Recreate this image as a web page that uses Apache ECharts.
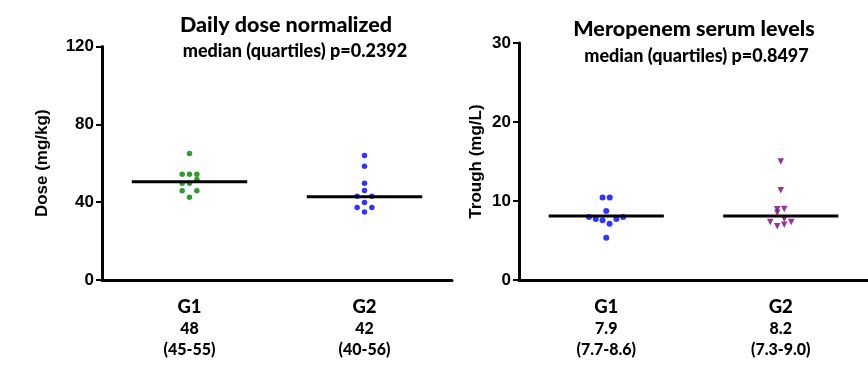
<!DOCTYPE html>
<html><head><meta charset="utf-8">
<script src="https://cdn.jsdelivr.net/npm/echarts@6/dist/echarts.min.js"></script>
<style>html,body{margin:0;padding:0;background:#fff}#c{width:868px;height:366px}</style>
</head><body><div id="c"></div>
<script>
// ---- data ----
const groups = ['G1', 'G2'];
const doseMedianText = ['48', '42'];
const doseQuartileText = ['(45-55)', '(40-56)'];
const troughMedianText = ['7.9', '8.2'];
const troughQuartileText = ['(7.7-8.6)', '(7.3-9.0)'];
// points: [group position incl. horizontal scatter, value]
const doseG1 = [[1,65],[0.958,54.3],[1,54.3],[1.042,54.3],[0.958,49.7],[1,49.7],[1.042,51.6],[0.958,45.9],[1.042,45.9],[1,42.5]];
const doseG2 = [[2,64],[2,58.4],[2,49.7],[2,46],[1.958,43],[2.042,43],[2,39.8],[1.958,37.2],[2.042,37.2],[2,34.9]];
const troughG1 = [[0.979,10.45],[1.02,10.45],[1,8.75],[0.901,7.97],[0.94,7.72],[0.979,7.55],[1.019,7.13],[1.058,7.72],[1.097,7.97],[1,5.36]];
const troughG2 = [[2,15],[2,11.35],[2.02,9.0],[1.98,8.95],[1.98,8.52],[2.02,7.72],[1.94,7.34],[1.98,6.79],[2.02,7.0],[2.06,7.34]];
const doseLineValues = [50.5, 42.8];
const troughLineValues = [8.1, 8.1];
const doseAxis = {min: 0, max: 120, interval: 40};
const troughAxis = {min: 0, max: 30, interval: 10};

const FONT = 'Lato, "Open Sans", sans-serif';
const AFONT = '"Liberation Sans", Arial, sans-serif';
const halfW = 0.33;

function lineSeries(values, xi, yi) {
  return values.map((v, i) => ({
    type: 'line', xAxisIndex: xi, yAxisIndex: yi,
    data: [[i + 1 - halfW, v], [i + 1 + halfW, v]],
    symbol: 'none', lineStyle: {color: '#000', width: 3}, z: 5, silent: true
  }));
}
function catAxis(gi, med, quart) {
  return {
    type: 'category', gridIndex: gi, data: groups, boundaryGap: true,
    axisLine: {lineStyle: {color: '#000', width: 3}},
    axisTick: {alignWithLabel: true, length: 7, lineStyle: {color: '#000', width: 2}},
    axisLabel: {
      margin: 16, fontFamily: FONT, fontWeight: 900, color: '#000',
      formatter: (v, i) => '{g|' + v + '}\n{n|' + med[i] + '}\n{n|' + quart[i] + '}',
      rich: {
        g: {fontSize: 18.5, fontWeight: 900, lineHeight: 22, color: '#000', fontFamily: FONT},
        n: {fontSize: 16, fontWeight: 900, lineHeight: 21, color: '#000', fontFamily: FONT}
      }
    }
  };
}
function valY(gi, ax, name, gap) {
  return {
    type: 'value', gridIndex: gi, min: ax.min, max: ax.max, interval: ax.interval,
    name: name, nameLocation: 'middle', nameRotate: 90, nameGap: gap,
    nameTextStyle: {fontFamily: AFONT, fontSize: 17, fontWeight: 'bold', color: '#000'},
    axisLine: {show: true, lineStyle: {color: '#000', width: 3}},
    axisTick: {show: true, length: 6, lineStyle: {color: '#000', width: 2}},
    axisLabel: {margin: 8, fontFamily: AFONT, fontSize: 17, fontWeight: 'bold', color: '#000'},
    splitLine: {show: false}
  };
}

const chart = echarts.init(document.getElementById('c'));
chart.setOption({
  backgroundColor: '#fff',
  animation: false,
  grid: [
    {left: 102, right: 416, top: 46.5, bottom: 86},
    {left: 519, right: -7, top: 43, bottom: 86}
  ],
  xAxis: [
    catAxis(0, doseMedianText, doseQuartileText),
    catAxis(1, troughMedianText, troughQuartileText),
    {type: 'value', gridIndex: 0, min: 0.5, max: 2.5, show: false},
    {type: 'value', gridIndex: 1, min: 0.5, max: 2.5, show: false}
  ],
  yAxis: [
    valY(0, doseAxis, 'Dose (mg/kg)', 51),
    valY(1, troughAxis, 'Trough (mg/L)', 34)
  ],
  graphic: [
    {type: 'text', x: 286, y: 25, style: {text: 'Daily dose normalized', font: '900 21.5px ' + FONT, fill: '#000', textAlign: 'center', textVerticalAlign: 'middle'}},
    {type: 'text', x: 295, y: 51, style: {text: 'median (quartiles) p=0.2392', font: '900 18px ' + FONT, fill: '#000', textAlign: 'center', textVerticalAlign: 'middle'}},
    {type: 'text', x: 694, y: 29, style: {text: 'Meropenem serum levels', font: '900 21.5px ' + FONT, fill: '#000', textAlign: 'center', textVerticalAlign: 'middle'}},
    {type: 'text', x: 696.5, y: 56, style: {text: 'median (quartiles) p=0.8497', font: '900 18px ' + FONT, fill: '#000', textAlign: 'center', textVerticalAlign: 'middle'}}
  ],
  series: [
    {type: 'scatter', xAxisIndex: 2, yAxisIndex: 0, data: doseG1, symbol: 'circle', symbolSize: 5.5, itemStyle: {color: '#008000'}},
    {type: 'scatter', xAxisIndex: 2, yAxisIndex: 0, data: doseG2, symbol: 'circle', symbolSize: 5.5, itemStyle: {color: '#0000ff'}},
    {type: 'scatter', xAxisIndex: 3, yAxisIndex: 1, data: troughG1, symbol: 'circle', symbolSize: 6, itemStyle: {color: '#0000ff'}},
    {type: 'scatter', xAxisIndex: 3, yAxisIndex: 1, data: troughG2, symbol: 'triangle', symbolRotate: 180, symbolSize: 6.5, itemStyle: {color: '#800080'}},
    ...lineSeries(doseLineValues, 2, 0),
    ...lineSeries(troughLineValues, 3, 1)
  ]
});
</script>
</body></html>
